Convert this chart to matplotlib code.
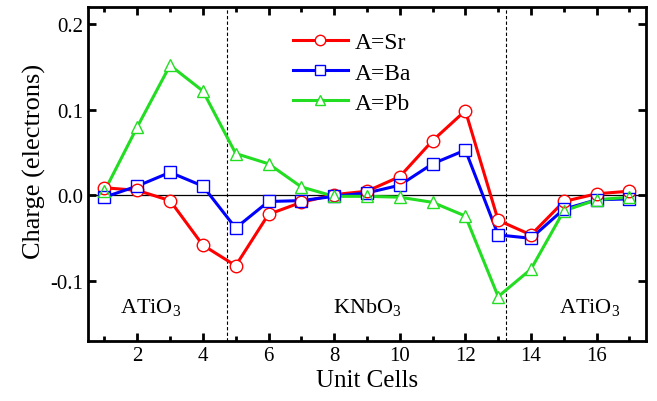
import matplotlib
matplotlib.use('Agg')
import matplotlib.pyplot as plt
from matplotlib.ticker import MultipleLocator, FormatStrFormatter

plt.rcParams['font.family'] = 'Liberation Serif'
plt.rcParams['mathtext.fontset'] = 'custom'
plt.rcParams['mathtext.rm'] = 'Liberation Serif'
plt.rcParams['mathtext.it'] = 'Liberation Serif:italic'
plt.rcParams['axes.unicode_minus'] = False

# Data
cells = list(range(1, 18))
sr = [0.009, 0.006, -0.006, -0.058, -0.082, -0.022, -0.008, 0.001, 0.005,
      0.022, 0.064, 0.099, -0.029, -0.046, -0.007, 0.002, 0.005]
ba = [-0.002, 0.011, 0.027, 0.011, -0.038, -0.007, -0.006, -0.001, 0.003,
      0.012, 0.037, 0.053, -0.046, -0.050, -0.016, -0.005, -0.004]
pb = [0.005, 0.080, 0.152, 0.122, 0.049, 0.037, 0.010, -0.001, -0.001,
      -0.002, -0.008, -0.024, -0.118, -0.086, -0.018, -0.005, -0.002]

series = [('A=Sr', sr, 'red', 'o'),
          ('A=Ba', ba, 'blue', 's'),
          ('A=Pb', pb, '#22dd22', '^')]

boundaries = [4.75, 13.25]
region_labels = [(2.4, 'ATiO$_3$'), (9.0, 'KNbO$_3$'), (15.8, 'ATiO$_3$')]

fig = plt.figure(figsize=(6.57, 4.02), dpi=100)
ax = fig.add_axes([0.134, 0.149, 0.849, 0.831])

ax.axhline(0, color='black', lw=0.9, zorder=1)
for b in boundaries:
    ax.axvline(b, color='black', lw=0.8, ls=(0, (3, 2)), zorder=1)

# lines
for name, vals, col, mk in series:
    ax.plot(cells, vals, color=col, lw=2.2, zorder=2)
# white gaps around the symbols
for name, vals, col, mk in series:
    ax.plot(cells, vals, ls='none', marker=mk, ms=9, mfc='white', mec='none', zorder=3)
# hollow symbols
handles = []
for name, vals, col, mk in series:
    ax.plot(cells, vals, ls='none', marker=mk, ms=9, mfc='none', mec=col, mew=1.0, zorder=4)
    h, = ax.plot([], [], color=col, lw=2.2, marker=mk, ms=7.5, mfc='white', mec=col, mew=1.0, label=name)
    handles.append(h)

ax.legend(handles=handles, loc='upper left', bbox_to_anchor=(0.4455, 0.918),
          bbox_transform=fig.transFigure, frameon=False, borderaxespad=0, borderpad=0,
          fontsize=17, handlelength=2.35, handletextpad=0.3, labelspacing=0.36)

for x, t in region_labels:
    ax.text(x, -0.130, t, fontsize=16, ha='center', va='center')

ax.set_xlim(0.5, 17.5)
ax.set_ylim(-0.17, 0.22)
ax.xaxis.set_major_locator(MultipleLocator(2))
ax.xaxis.set_minor_locator(MultipleLocator(1))
ax.yaxis.set_major_locator(MultipleLocator(0.1))
ax.yaxis.set_major_formatter(FormatStrFormatter('%.1f'))
ax.tick_params(which='both', direction='in', top=True, right=True, width=2, labelsize=15)
ax.tick_params(which='major', length=6)
ax.tick_params(which='minor', length=3.5)
for s in ax.spines.values():
    s.set_linewidth(2)

ax.set_xlabel('Unit Cells', fontsize=18, labelpad=3)
ax.set_ylabel('Charge (electrons)', fontsize=19)
ax.yaxis.set_label_coords(-0.075, 0.542)

fig.savefig('out.png', dpi=100)
